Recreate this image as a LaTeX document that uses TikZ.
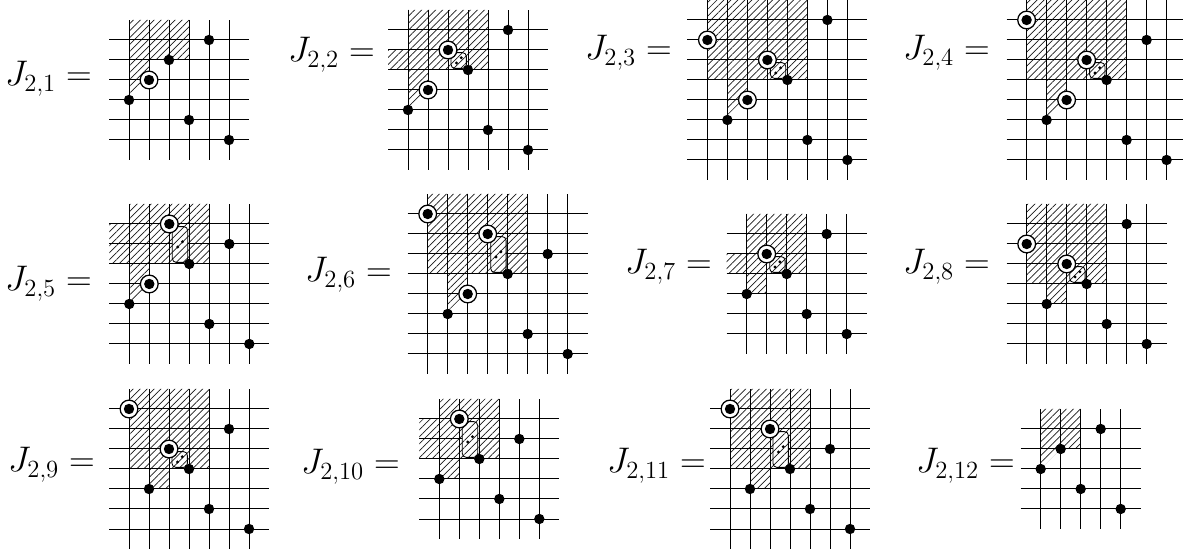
\documentclass[tikz,border=0pt]{standalone}
\usepackage{amsmath}
\usepackage{tikz}
\usetikzlibrary{patterns.meta}
\tikzset{
  gridline/.style={line width=0.7pt, black},
  hatch/.style={pattern={Lines[angle=45, distance=3.5pt, line width=0.5pt]}, pattern color=black!90},
  pt/.style={circle, fill=black, inner sep=0pt, minimum size=7.4pt},
  ringpt/.style={circle, draw=black, fill=white, inner sep=0pt,
    minimum size=12.6pt, line width=0.9pt},
  tinypt/.style={circle, fill=black, inner sep=0pt, minimum size=2.3pt},
  dotbox/.style={preaction={fill=white}, hatch, draw=black, rounded corners=2.8pt, line width=0.6pt},
  lbl/.style={font=\huge, scale=1.22, inner sep=0pt, anchor=base east}
}
% grid of a pattern with #1 points
\newcommand{\permgrid}[1]{%
  \foreach \i in {1,...,#1} {
    \draw[gridline] (\i,0) -- (\i,#1+1);
    \draw[gridline] (0,\i) -- (#1+1,\i);
  }}
% rounded box with two dots: name, column, bottom row, top row
\newcommand{\dotcell}[4]{%
  \draw[dotbox] (#2+0.15,#3+0.08) rectangle (#2+0.92,#4-0.13);
  \node[tinypt] (#1-da) at (#2+0.42,{(#3+#4)/2-0.15}) {};
  \node[tinypt] (#1-db) at (#2+0.66,{(#3+#4)/2+0.11}) {};
}

\begin{document}
\begin{tikzpicture}[x=0.5cm, y=0.5cm]
  \useasboundingbox (0,0) rectangle (59.15,27.5);

  % J_{2,1}
  \node[lbl] (lab1) at (4.6,23.2) {$J_{2,1} =$};
  \begin{scope}[shift={(5.45,19.5)}]
    \fill[hatch] (1,5) rectangle (4,7) (1,4) rectangle (2,5) (1,3) -- (1,4) -- (2,4) -- cycle;
    \permgrid{6}
    \node[ringpt] (p1-r2) at (2,4) {};
    \foreach \c/\r in {1/3,2/4,3/5,4/2,5/6,6/1} \node[pt] (p1-\c) at (\c,\r) {};
  \end{scope}

  % J_{2,2}
  \node[lbl] (lab2) at (18.75,24.4) {$J_{2,2} =$};
  \begin{scope}[shift={(19.4,19)}]
    \fill[hatch] (1,5) rectangle (5,8) (0,5) rectangle (1,6) (1,4) rectangle (2,5) (1,3) -- (1,4) -- (2,4) -- cycle;
    \permgrid{7}
    \dotcell{p2}{3}{5}{6}
    \node[ringpt] (p2-r2) at (2,4) {};
    \node[ringpt] (p2-r3) at (3,6) {};
    \foreach \c/\r in {1/3,2/4,3/6,4/5,5/2,6/7,7/1} \node[pt] (p2-\c) at (\c,\r) {};
  \end{scope}

  % J_{2,3}
  \node[lbl] (lab3) at (33.6,24.5) {$J_{2,3} =$};
  \begin{scope}[shift={(34.37,18.5)}]
    \fill[hatch] (1,5) rectangle (6,9) (2,4) rectangle (3,5) (2,3) -- (2,4) -- (3,4) -- cycle;
    \permgrid{8}
    \dotcell{p3}{4}{5}{6}
    \node[ringpt] (p3-r1) at (1,7) {};
    \node[ringpt] (p3-r3) at (3,4) {};
    \node[ringpt] (p3-r4) at (4,6) {};
    \foreach \c/\r in {1/7,2/3,3/4,4/6,5/5,6/2,7/8,8/1} \node[pt] (p3-\c) at (\c,\r) {};
  \end{scope}

  % J_{2,4}
  \node[lbl] (lab4) at (49.5,24.5) {$J_{2,4} =$};
  \begin{scope}[shift={(50.33,18.5)}]
    \fill[hatch] (1,5) rectangle (6,9) (2,4) rectangle (3,5) (2,3) -- (2,4) -- (3,4) -- cycle;
    \permgrid{8}
    \dotcell{p4}{4}{5}{6}
    \node[ringpt] (p4-r1) at (1,8) {};
    \node[ringpt] (p4-r3) at (3,4) {};
    \node[ringpt] (p4-r4) at (4,6) {};
    \foreach \c/\r in {1/8,2/3,3/4,4/6,5/5,6/2,7/7,8/1} \node[pt] (p4-\c) at (\c,\r) {};
  \end{scope}

  % J_{2,5}
  \node[lbl] (lab5) at (4.6,12.95) {$J_{2,5} =$};
  \begin{scope}[shift={(5.465,9.3)}]
    \fill[hatch] (1,5) rectangle (5,8) (0,5) rectangle (1,7) (1,4) rectangle (2,5) (1,3) -- (1,4) -- (2,4) -- cycle;
    \permgrid{7}
    \dotcell{p5}{3}{5}{7}
    \node[ringpt] (p5-r2) at (2,4) {};
    \node[ringpt] (p5-r3) at (3,7) {};
    \foreach \c/\r in {1/3,2/4,3/7,4/5,5/2,6/6,7/1} \node[pt] (p5-\c) at (\c,\r) {};
  \end{scope}

  % J_{2,6}
  \node[lbl] (lab6) at (19.6,13.4) {$J_{2,6} =$};
  \begin{scope}[shift={(20.385,8.8)}]
    \fill[hatch] (1,5) rectangle (6,9) (2,4) rectangle (3,5) (2,3) -- (2,4) -- (3,4) -- cycle;
    \permgrid{8}
    \dotcell{p6}{4}{5}{7}
    \node[ringpt] (p6-r1) at (1,8) {};
    \node[ringpt] (p6-r3) at (3,4) {};
    \node[ringpt] (p6-r4) at (4,7) {};
    \foreach \c/\r in {1/8,2/3,3/4,4/7,5/5,6/2,7/6,8/1} \node[pt] (p6-\c) at (\c,\r) {};
  \end{scope}

  % J_{2,7}
  \node[lbl] (lab7) at (35.6,13.8) {$J_{2,7} =$};
  \begin{scope}[shift={(36.335,9.8)}]
    \fill[hatch] (1,4) rectangle (4,7) (0,4) rectangle (1,5) (1,3) rectangle (2,4);
    \permgrid{6}
    \dotcell{p7}{2}{4}{5}
    \node[ringpt] (p7-r2) at (2,5) {};
    \foreach \c/\r in {1/3,2/5,3/4,4/2,5/6,6/1} \node[pt] (p7-\c) at (\c,\r) {};
  \end{scope}

  % J_{2,8}
  \node[lbl] (lab8) at (49.5,13.8) {$J_{2,8} =$};
  \begin{scope}[shift={(50.335,9.3)}]
    \fill[hatch] (1,4) rectangle (5,8) (2,3) rectangle (3,4);
    \permgrid{7}
    \dotcell{p8}{3}{4}{5}
    \node[ringpt] (p8-r1) at (1,6) {};
    \node[ringpt] (p8-r3) at (3,5) {};
    \foreach \c/\r in {1/6,2/3,3/5,4/4,5/2,6/7,7/1} \node[pt] (p8-\c) at (\c,\r) {};
  \end{scope}

  % J_{2,9}
  \node[lbl] (lab9) at (4.75,3.9) {$J_{2,9} =$};
  \begin{scope}[shift={(5.45,0.05)}]
    \fill[hatch] (1,4) rectangle (5,8) (2,3) rectangle (3,4);
    \permgrid{7}
    \dotcell{p9}{3}{4}{5}
    \node[ringpt] (p9-r1) at (1,7) {};
    \node[ringpt] (p9-r3) at (3,5) {};
    \foreach \c/\r in {1/7,2/3,3/5,4/4,5/2,6/6,7/1} \node[pt] (p9-\c) at (\c,\r) {};
  \end{scope}

  % J_{2,10}
  \node[lbl] (lab10) at (20.0,3.8) {$J_{2,10} =$};
  \begin{scope}[shift={(20.965,0.55)}]
    \fill[hatch] (1,4) rectangle (4,7) (0,4) rectangle (1,6) (1,3) rectangle (2,4);
    \permgrid{6}
    \dotcell{p10}{2}{4}{6}
    \node[ringpt] (p10-r2) at (2,6) {};
    \foreach \c/\r in {1/3,2/6,3/4,4/2,5/5,6/1} \node[pt] (p10-\c) at (\c,\r) {};
  \end{scope}

  % J_{2,11}
  \node[lbl] (lab11) at (35.3,3.85) {$J_{2,11} =$};
  \begin{scope}[shift={(35.5,0.05)}]
    \fill[hatch] (1,4) rectangle (5,8) (2,3) rectangle (3,4);
    \permgrid{7}
    \dotcell{p11}{3}{4}{6}
    \node[ringpt] (p11-r1) at (1,7) {};
    \node[ringpt] (p11-r3) at (3,6) {};
    \foreach \c/\r in {1/7,2/3,3/6,4/4,5/2,6/5,7/1} \node[pt] (p11-\c) at (\c,\r) {};
  \end{scope}

  % J_{2,12}
  \node[lbl] (lab12) at (50.75,3.85) {$J_{2,12} =$};
  \begin{scope}[shift={(51.035,1.05)}]
    \fill[hatch] (1,4) rectangle (3,6) (1,3) -- (1,4) -- (2,4) -- cycle;
    \permgrid{5}
    \foreach \c/\r in {1/3,2/4,3/2,4/5,5/1} \node[pt] (p12-\c) at (\c,\r) {};
  \end{scope}
\end{tikzpicture}
\end{document}
